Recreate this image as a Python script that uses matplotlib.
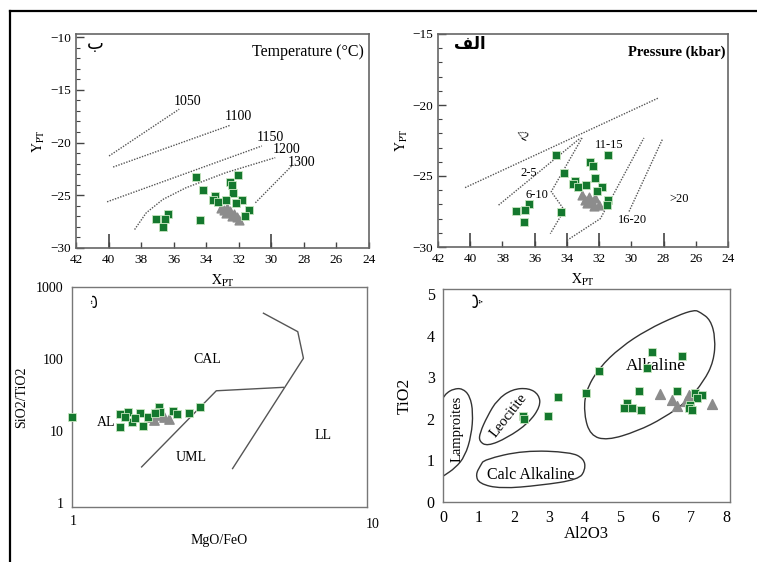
import numpy as np
import matplotlib.pyplot as plt
from matplotlib.path import Path
from matplotlib.patches import PathPatch
from matplotlib.lines import Line2D
from matplotlib.ticker import MultipleLocator

plt.rcParams['font.family'] = ['Liberation Serif', 'DejaVu Sans']
plt.rcParams['mathtext.fontset'] = 'stix'

W, H = 757, 562
GREEN = '#14782e'
GRAY = '#8c8c8c'
DOT = '#555555'

# ---- temperature panel (ب) ----
temp_sq_x = [34.64, 34.17, 32.06, 32.55, 32.41, 32.35, 33.48, 33.57, 33.28, 32.81,
             31.80, 32.20, 31.39, 31.59, 37.08, 36.37, 36.53, 36.67, 34.38]
temp_sq_y = [-23.27, -24.51, -23.11, -23.75, -24.03, -24.83, -25.08, -25.40, -25.65, -25.40,
             -25.40, -25.71, -26.41, -26.92, -27.24, -26.73, -27.24, -28.03, -27.30]
temp_tri_x = [33.12, 32.91, 32.71, 32.51, 32.30, 32.10, 32.81, 32.41, 32.00]
temp_tri_y = [-26.19, -26.41, -26.19, -26.51, -26.73, -27.05, -26.67, -26.98, -27.30]
isotherms = {
    '1050': ([39.97, 35.66], [-21.27, -16.83], (35.15, -16.13)),
    '1100': ([39.72, 32.51], [-22.32, -18.35], (32.00, -17.52)),
    '1150': ([40.09, 30.58], [-25.62, -20.32], (30.07, -19.52)),
    '1200': ([38.40, 37.69, 36.67, 35.25, 32.81, 29.76],
             [-28.25, -26.67, -25.40, -24.29, -22.86, -21.43], (29.05, -20.63)),
    '1300': ([30.98, 28.75], [-25.71, -22.22], (28.14, -21.90)),
}

# ---- pressure panel (الف) ----
pres_sq_x = [34.66, 31.46, 32.58, 32.41, 34.18, 32.27, 33.51, 33.62, 33.31, 32.79,
             31.81, 32.12, 31.44, 31.54, 37.15, 36.38, 36.63, 36.69, 34.37]
pres_sq_y = [-23.55, -23.50, -24.02, -24.33, -24.80, -25.11, -25.32, -25.58, -25.75, -25.63,
             -25.75, -26.06, -26.69, -27.05, -27.47, -27.00, -27.40, -28.23, -27.57]
pres_tri_x = [33.06, 32.85, 32.64, 32.44, 32.23, 32.02, 32.75, 32.33]
pres_tri_y = [-26.34, -26.69, -26.46, -26.81, -26.58, -27.05, -26.93, -27.10]
pres_lines = [
    ([40.32, 28.29], [-25.82, -19.49]),
    ([38.24, 33.16], [-27.05, -22.32]),
    ([33.06, 34.97, 34.16, 35.03], [-22.32, -26.10, -27.40, -29.06]),
    ([33.99, 31.92, 29.22], [-29.53, -28.00, -22.32]),
    ([28.08, 30.15], [-22.44, -27.52]),
]
pres_labels = ['<2', '11-15', '2-5', '6-10', '16-20', '>20']
pres_label_x = [36.79, 31.40, 36.38, 35.86, 29.95, 27.04]
pres_label_y = [-22.20, -22.80, -24.80, -26.34, -28.10, -26.60]

# ---- SiO2/TiO2 vs MgO/FeO panel (ت) ----
mg_sq_x = [0.99, 1.43, 1.52, 1.43, 1.57, 1.67, 1.61, 1.71, 1.78, 1.93, 1.95, 2.15, 2.21, 2.44, 2.64, 1.88, 1.49]
mg_sq_y = [15.6, 17.1, 18.4, 11.3, 13.3, 17.4, 14.9, 11.6, 15.6, 21.5, 18.4, 19.0, 17.1, 17.8, 21.5, 17.4, 15.6]
mg_tri_x = [1.81, 1.88, 1.94, 2.00, 2.08, 1.86]
mg_tri_y = [15.6, 17.7, 16.4, 15.6, 14.8, 14.3]
mg_line_a = ([1.69, 3.00, 5.02], [3.14, 36.0, 40.2])
mg_line_b = ([3.40, 5.86, 5.61, 4.31], [2.98, 102.0, 239.0, 432.0])
mg_fields = ['CAL', 'AL', 'UML', 'LL']
mg_field_x = [2.80, 1.29, 2.47, 6.83]
mg_field_y = [99.0, 12.9, 4.19, 8.7]

# ---- TiO2 vs Al2O3 panel (پ) ----
al_sq_x = [2.26, 2.28, 2.96, 3.24, 4.03, 4.40, 5.90, 6.75, 5.76, 5.53, 6.61, 5.20, 5.10, 5.34, 5.59,
           7.12, 7.31, 7.17, 6.98, 6.94, 7.03]
al_sq_y = [2.06, 1.99, 2.06, 2.53, 2.61, 3.14, 3.60, 3.50, 3.22, 2.66, 2.68, 2.38, 2.26, 2.26, 2.22,
           2.62, 2.58, 2.50, 2.34, 2.26, 2.22]
al_tri_x = [6.12, 6.47, 6.61, 6.94, 6.98, 7.59, 6.85]
al_tri_y = [2.59, 2.46, 2.30, 2.58, 2.38, 2.36, 2.42]
lamp_x = [0.02, 0.35, 0.62, 0.80, 0.85, 0.76, 0.55, 0.30, 0.10, 0.02]
lamp_y = [0.63, 0.82, 1.10, 1.60, 2.15, 2.55, 2.73, 2.72, 2.62, 2.52]
leuc_x = [1.02, 1.25, 1.81, 2.42, 2.75, 2.71, 2.42, 1.95, 1.53, 1.25, 1.04]
leuc_y = [1.46, 1.34, 1.54, 1.90, 2.30, 2.58, 2.74, 2.71, 2.46, 2.06, 1.66]
calc_x = [1.16, 2.28, 3.60, 3.98, 4.02, 3.83, 2.75, 1.63, 1.02, 0.92, 1.06]
calc_y = [1.02, 1.24, 1.20, 1.04, 0.78, 0.54, 0.40, 0.32, 0.44, 0.66, 0.88]
alk_x = [7.26, 7.55, 7.69, 7.64, 7.36, 6.89, 6.23, 5.48, 4.63, 4.16, 3.98, 4.02, 4.40, 5.01, 5.76, 6.61, 7.10]
alk_y = [4.56, 4.38, 3.94, 3.38, 2.90, 2.42, 2.02, 1.70, 1.48, 1.60, 2.10, 2.66, 3.22, 3.72, 4.14, 4.48, 4.62]


def rect(l, t, r, b):
    return [l / W, 1 - b / H, (r - l) / W, (b - t) / H]


def smooth(xs, ys, closed=True):
    p = np.column_stack([xs, ys])
    if closed:
        m = (p + np.roll(p, -1, axis=0)) / 2
        verts, codes = [m[-1]], [Path.MOVETO]
        for a, b in zip(p, m):
            verts += [a, b]
            codes += [Path.CURVE3, Path.CURVE3]
    else:
        m = (p[:-1] + p[1:]) / 2
        verts, codes = [p[0], m[0]], [Path.MOVETO, Path.LINETO]
        for a, b in zip(p[1:-1], m[1:]):
            verts += [a, b]
            codes += [Path.CURVE3, Path.CURVE3]
        verts.append(p[-1])
        codes.append(Path.LINETO)
    return Path(verts, codes)


def pt_frame(ax, ylim, yticks, long_x):
    ax.set_xlim(42, 24)
    ax.set_ylim(*ylim)
    ax.set_xticks(np.arange(42, 23, -2))
    ax.set_yticks(yticks)
    ax.yaxis.set_minor_locator(MultipleLocator(1))
    ax.tick_params(axis='x', direction='in', length=4, width=1, color='#444', labelsize=9.5, pad=4)
    ax.tick_params(axis='y', which='major', direction='in', length=6, width=1, color='#444', labelsize=9.5)
    ax.tick_params(axis='y', which='minor', direction='in', length=3, width=0.8, color='#444')
    ax.tick_params(top=False, right=False)
    sec = ax.secondary_xaxis('bottom')
    sec.set_xticks(long_x)
    sec.set_xticklabels([])
    sec.tick_params(direction='in', length=10, width=1.2, color='#444')
    sec.spines['bottom'].set_visible(False)
    for s in ax.spines.values():
        s.set_color('#666')
        s.set_linewidth(1.2)
    ax.set_ylabel(r'$\mathrm{Y_{PT}}$', fontsize=10, labelpad=2)
    ax.set_xlabel(r'$\mathrm{X_{PT}}$', fontsize=10, labelpad=5)


fig = plt.figure(figsize=(W / 100, H / 100), dpi=100)

# outer frame
fig.add_artist(Line2D([10 / W, 1], [1 - 11 / H, 1 - 11 / H], transform=fig.transFigure, color='k', lw=1.6))
fig.add_artist(Line2D([10 / W, 10 / W], [0, 1 - 11 / H], transform=fig.transFigure, color='k', lw=1.6))

# --- top left: temperature ---
ax1 = fig.add_axes(rect(76, 34, 369, 248))
pt_frame(ax1, (-30, -9.7), [-10, -15, -20, -25, -30], [40, 30])
for name, (lx, ly, pos) in isotherms.items():
    ax1.plot(lx, ly, ls=(0, (1, 1)), color=DOT, lw=1)
    ax1.text(pos[0], pos[1], name, fontsize=10, ha='center', va='center')
ax1.scatter(temp_tri_x, temp_tri_y, marker='^', s=40, color=GRAY, zorder=3)
ax1.scatter(temp_sq_x, temp_sq_y, marker='s', s=34, color=GREEN, edgecolor='#c8e6c0', lw=0.6, zorder=4)
ax1.text(0.79, 0.915, 'Temperature (°C)', transform=ax1.transAxes, fontsize=11.5, ha='center', va='center')
ax1.text(0.065, 0.955, 'ب', transform=ax1.transAxes, fontsize=13, ha='center', va='center',
         family=['DejaVu Sans'])

# --- top right: pressure ---
ax2 = fig.add_axes(rect(438, 34, 728, 247))
pt_frame(ax2, (-30, -15), [-15, -20, -25, -30], [40, 36, 34, 32, 28])
for lx, ly in pres_lines:
    ax2.plot(lx, ly, ls=(0, (1, 1)), color=DOT, lw=1)
for t, x, y in zip(pres_labels, pres_label_x, pres_label_y):
    ax2.text(x, y, t, fontsize=9, ha='center', va='center', rotation=-25 if t == '<2' else 0)
ax2.scatter(pres_tri_x, pres_tri_y, marker='^', s=40, color=GRAY, zorder=3)
ax2.scatter(pres_sq_x, pres_sq_y, marker='s', s=34, color=GREEN, edgecolor='#c8e6c0', lw=0.6, zorder=4)
ax2.text(0.99, 0.915, 'Pressure (kbar)', transform=ax2.transAxes, fontsize=10.5, fontweight='bold',
         ha='right', va='center')
ax2.text(0.11, 0.955, '\ufed2\ufedf\ufe8d', transform=ax2.transAxes, fontsize=12, fontweight='bold',
         ha='center', va='center', family=['DejaVu Sans'])

# --- bottom left: SiO2/TiO2 vs MgO/FeO ---
ax3 = fig.add_axes(rect(72, 287, 367, 507))
ax3.set_xscale('log')
ax3.set_yscale('log')
ax3.set_xlim(0.99, 9.55)
ax3.set_ylim(0.87, 1000)
ax3.set_yticks([1, 10, 100, 1000], labels=['1', '10', '100', '1000'])
ax3.set_xticks([1], labels=['1'])
ax3.minorticks_off()
ax3.tick_params(length=0, labelsize=10, pad=6)
ax3.text(10, -0.05, '10', transform=ax3.get_xaxis_transform(), fontsize=10, ha='center', va='top')
for s in ax3.spines.values():
    s.set_color('#777')
    s.set_linewidth(1)
ax3.plot(*mg_line_a, color='#555', lw=1)
ax3.plot(*mg_line_b, color='#555', lw=1)
for t, x, y in zip(mg_fields, mg_field_x, mg_field_y):
    ax3.text(x, y, t, fontsize=10, ha='center', va='center')
ax3.scatter(mg_tri_x, mg_tri_y, marker='^', s=45, color=GRAY, zorder=3)
ax3.scatter(mg_sq_x, mg_sq_y, marker='s', s=38, color=GREEN, edgecolor='#c8e6c0', lw=0.6, zorder=4,
            clip_on=False)
ax3.set_xlabel('MgO/FeO', fontsize=10, labelpad=4)
ax3.set_ylabel('SiO2/TiO2', fontsize=10, labelpad=6)
ax3.text(0.07, 0.94, 'ت', transform=ax3.transAxes, fontsize=11, ha='center', va='center',
         rotation=90, family=['DejaVu Sans'])

# --- bottom right: TiO2 vs Al2O3 ---
ax4 = fig.add_axes(rect(443, 289, 730, 502))
ax4.set_xlim(0, 8.1)
ax4.set_ylim(0, 5.12)
ax4.set_xticks(range(0, 9))
ax4.set_yticks(range(0, 6))
ax4.tick_params(length=0, labelsize=11.5, pad=6)
for s in ax4.spines.values():
    s.set_color('#777')
    s.set_linewidth(1)
ax4.add_patch(PathPatch(smooth(lamp_x, lamp_y, closed=False), fill=False, ec='#333', lw=1))
for xs, ys in [(leuc_x, leuc_y), (calc_x, calc_y), (alk_x, alk_y)]:
    ax4.add_patch(PathPatch(smooth(xs, ys), fill=False, ec='#333', lw=1))
ax4.text(0.40, 1.75, 'Lamproites', rotation=90, fontsize=10.5, ha='center', va='center')
ax4.text(1.86, 2.08, 'Leocitite', rotation=52, fontsize=10.5, ha='center', va='center')
ax4.text(2.47, 0.64, 'Calc Alkaline', fontsize=11.5, ha='center', va='center')
ax4.text(6.0, 3.27, 'Alkaline', fontsize=12.5, ha='center', va='center', zorder=2)
ax4.scatter(al_tri_x, al_tri_y, marker='^', s=50, color=GRAY, zorder=3)
ax4.scatter(al_sq_x, al_sq_y, marker='s', s=38, color=GREEN, edgecolor='#c8e6c0', lw=0.6, zorder=4)
ax4.set_xlabel('Al2O3', fontsize=12, labelpad=0)
ax4.set_ylabel('TiO2', fontsize=12.5, labelpad=10)
ax4.text(0.105, 0.95, 'پ', transform=ax4.transAxes, fontsize=12, ha='center', va='center',
         rotation=90, family=['DejaVu Sans'])

fig.savefig('out.png', dpi=100)
